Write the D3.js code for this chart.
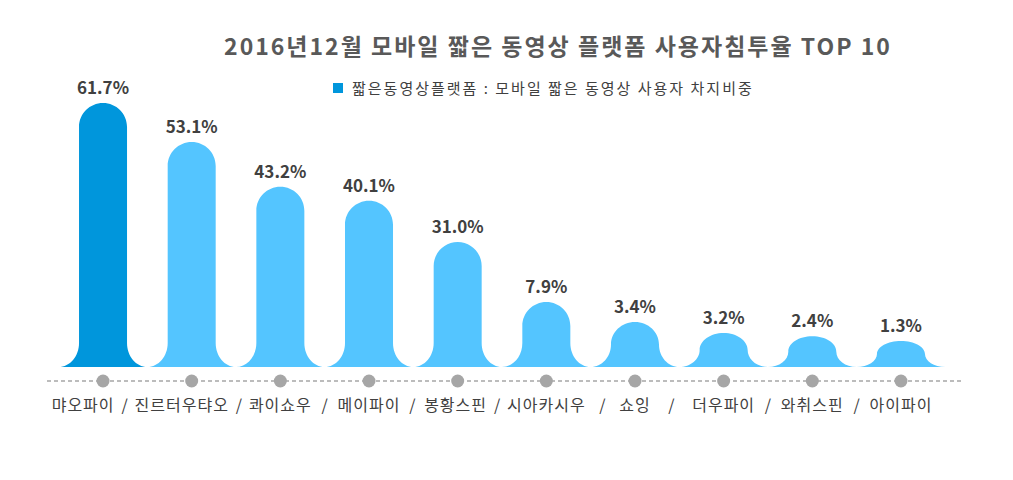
<!DOCTYPE html>
<html><head><meta charset="utf-8">
<script src="https://cdn.jsdelivr.net/npm/d3@7"></script>
<style>
html,body{margin:0;padding:0;background:#fff;}
svg text{font-family:"Noto Sans CJK KR","Noto Sans",sans-serif;}
</style></head>
<body><svg id="c" width="1013" height="480"></svg>
<script>
const title = "2016년12월 모바일 짧은 동영상 플랫폼 사용자침투율 TOP 10";
const legendLabel = "짧은동영상플랫폼 : 모바일 짧은 동영상 사용자 차지비중";
const categories = ["먀오파이","진르터우탸오","콰이쇼우","메이파이","봉황스핀","시아카시우","쇼잉","더우파이","와취스핀","아이파이"];
const values = [61.7, 53.1, 43.2, 40.1, 31.0, 7.9, 3.4, 3.2, 2.4, 1.3];
const valueLabels = values.map(v => v.toFixed(1) + "%");

const svg = d3.select("#c");
const baseY = 367;
const x = d3.scaleBand().domain(categories).range([58.7, 945.3]).padding(0);
// infographic height scale (the original stretches small values)
const h = d3.scaleLinear()
  .domain([0, 1.3, 3.2, 3.4, 7.9, 31, 61.7])
  .range([0, 26, 34, 45, 65, 125, 264]);

const dark = "#0096dc", light = "#54c5ff";
const k = 0.5523;
function shape(cx, hh, s) {
  const w = 24, rr = Math.min(24, hh / 2), fh = Math.min(24, hh / 2);
  const y0 = baseY, top = y0 - hh, rx = s - w;
  const p = d3.path();
  p.moveTo(cx - s, y0);
  p.bezierCurveTo(cx - s + k * rx, y0, cx - w, y0 - fh + k * fh, cx - w, y0 - fh);
  p.lineTo(cx - w, top + rr);
  p.bezierCurveTo(cx - w, top + rr - k * rr, cx - k * w, top, cx, top);
  p.bezierCurveTo(cx + k * w, top, cx + w, top + rr - k * rr, cx + w, top + rr);
  p.lineTo(cx + w, y0 - fh);
  p.bezierCurveTo(cx + w, y0 - fh + k * fh, cx + s - k * rx, y0, cx + s, y0);
  p.closePath();
  return p.toString();
}

svg.append("line").attr("x1", 47).attr("x2", 961).attr("y1", 381).attr("y2", 381)
  .attr("stroke", "#a6a6a6").attr("stroke-width", 1.6).attr("stroke-dasharray", "4,3");

const data = categories.map((c, i) => ({c, v: values[i], lab: valueLabels[i], i}));
const half = x.step() / 2;

svg.selectAll("path.bar").data(data).join("path").attr("class", "bar")
  .attr("d", d => shape(x(d.c) + half, h(d.v), half))
  .attr("fill", d => d.i === 0 ? dark : light);

svg.selectAll("text.val").data(data).join("text").attr("class", "val")
  .attr("x", d => x(d.c) + half).attr("y", d => baseY - h(d.v) - 9)
  .attr("text-anchor", "middle").attr("font-size", 17).attr("font-weight", "bold")
  .attr("fill", "#404040").text(d => d.lab);

svg.selectAll("circle.dot").data(data).join("circle").attr("class", "dot")
  .attr("cx", d => x(d.c) + half).attr("cy", 381).attr("r", 6.5).attr("fill", "#a6a6a6");

const cats = svg.selectAll("text.cat").data(data).join("text").attr("class", "cat")
  .attr("x", d => x(d.c) + half).attr("y", 411)
  .attr("text-anchor", "middle").attr("font-size", 16).attr("letter-spacing", 1)
  .attr("fill", "#404040").text(d => d.c);
// avoid label crowding: push labels left until a minimum gap is kept
const nodes = cats.nodes();
const L = nodes.map(n => { const b = n.getBBox(); return {l: b.x, r: b.x + b.width}; });
const minGap = 20;
for (let i = L.length - 1; i > 0; i--) {
  const gap = L[i].l - L[i - 1].r;
  if (gap < minGap) { const dx = minGap - gap; L[i - 1].l -= dx; L[i - 1].r -= dx; }
}
nodes.forEach((n, i) => d3.select(n).attr("x", (L[i].l + L[i].r) / 2));
svg.selectAll("text.sep").data(data.slice(0, -1)).join("text").attr("class", "sep")
  .attr("x", d => (L[d.i].r + L[d.i + 1].l) / 2).attr("y", 411)
  .attr("text-anchor", "middle").attr("font-size", 16).attr("fill", "#404040")
  .text("/");

svg.append("text").attr("x", 558).attr("y", 55).attr("text-anchor", "middle")
  .attr("font-size", 23).attr("letter-spacing", 2).attr("font-weight", "bold")
  .attr("fill", "#595959").text(title);

svg.append("rect").attr("x", 333).attr("y", 83).attr("width", 10).attr("height", 10).attr("fill", dark);
svg.append("text").attr("x", 352).attr("y", 94).attr("font-size", 15).attr("letter-spacing", 2)
  .attr("fill", "#404040").text(legendLabel);
</script></body></html>
